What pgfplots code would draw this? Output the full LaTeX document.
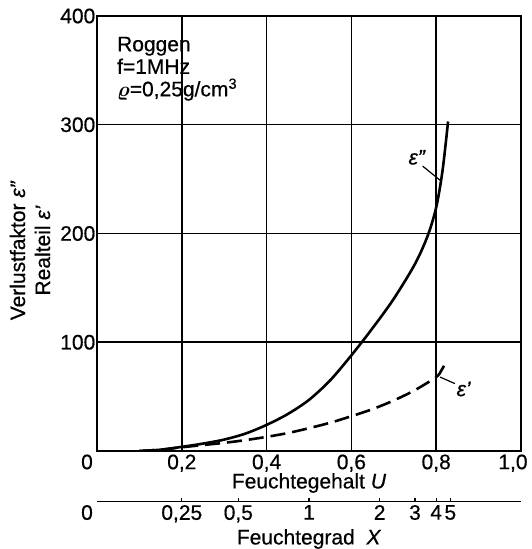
\documentclass[border=0pt]{standalone}
\usepackage{bm}
\usepackage{fontspec}
\setmainfont{Liberation Sans}[FakeBold=0.5]
\usepackage{pgfplots}
\pgfplotsset{compat=1.18}
\newcommand\bigf{\fontsize{21}{22}\selectfont}

\begin{document}
\begin{tikzpicture}[font=\bigf]
\begin{axis}[
    name=main, at={(0,0)}, anchor=south west,
    scale only axis, width=424pt, height=435pt,
    xmin=0, xmax=1, ymin=0, ymax=400,
    xtick={0,0.2,0.4,0.6,0.8,1},
    xticklabels={0\rule{20pt}{0pt},{0,2},{0,4},{0,6},{0,8},{1,0\rule{16pt}{0pt}}},
    ytick={100,200,300,400},
    yticklabels={100,200,300,400},
    grid=major, major grid style={black, line width=1.5pt},
    major tick length=0pt,
    axis line style={line width=1.9pt},
    tick label style={font=\bigf},
    yticklabel style={inner sep=1.5pt},
    xlabel={Feuchtegehalt \textit{U}},
    xlabel style={at={(axis description cs:0.5,0)}, anchor=center, yshift=-32pt, font=\bigf},
    ylabel={Verlustfaktor \textit{ε"}\\Realteil \textit{ε'}},
    ylabel style={at={(axis description cs:-0.158,0.461)}, anchor=center, align=center,
        font=\fontsize{21}{25}\selectfont},
]
% epsilon'' (Verlustfaktor)
\addplot[black, line width=2.6pt, smooth] coordinates {
    (0.10,0) (0.15,1.2) (0.20,3.8) (0.25,6.8) (0.30,10.5) (0.35,16)
    (0.40,24) (0.45,34) (0.50,47) (0.55,65) (0.60,88) (0.65,113)
    (0.70,140) (0.75,172) (0.78,198) (0.80,224) (0.815,258) (0.828,303)
};
% epsilon' (Realteil)
\addplot[black, line width=2.6pt, smooth, dash pattern=on 15pt off 7pt] coordinates {
    (0.10,0) (0.15,1.2) (0.20,3.4) (0.25,5.5) (0.30,7.5) (0.35,10)
    (0.40,13) (0.45,16.5) (0.50,21) (0.55,26) (0.60,32) (0.65,38.5)
    (0.70,46.5) (0.75,56) (0.80,68) (0.812,74) (0.822,81)
};
\node[anchor=north west, align=left, inner sep=0pt, font=\fontsize{21}{22.5}\selectfont]
    at (axis cs:0.047,381) {Roggen\\f=1MHz\\$\bm{\varrho}$=0,25g/cm\textsuperscript{3}};
\draw[line width=1.2pt] (axis cs:0.768,262) -- (axis cs:0.809,249);
\node at (axis cs:0.755,270) {\textit{ε"}};
\draw[line width=1.2pt] (axis cs:0.809,68) -- (axis cs:0.844,62);
\node at (axis cs:0.865,57) {\textit{ε'}};
\end{axis}

% Feuchtegrad scale
\begin{axis}[
    at={(0,-50.6pt)}, anchor=south west,
    scale only axis, width=424pt, height=10pt,
    xmin=0, xmax=1, ymin=0, ymax=1,
    hide y axis, axis x line*=bottom,
    axis line style={line width=1.6pt},
    xtick={0.2,0.33333,0.5,0.66667,0.75,0.8,0.83333},
    xticklabels={{0,25},{0,5},1,2,3,4,5},
    extra x ticks={0}, extra x tick labels={0\rule{20pt}{0pt}},
    extra x tick style={major tick length=0pt},
    major tick length=4pt, tick style={line width=1.2pt, black},
    xtick align=inside,
    tick label style={font=\bigf},
    xlabel={Feuchtegrad\ \ \textit{X}},
    xlabel style={at={(axis description cs:0.5,0)}, anchor=center, yshift=-37.4pt, font=\bigf},
]
\end{axis}
\pgfresetboundingbox
\path (-97pt,-98pt) rectangle (435pt,451pt);
\end{tikzpicture}
\end{document}
